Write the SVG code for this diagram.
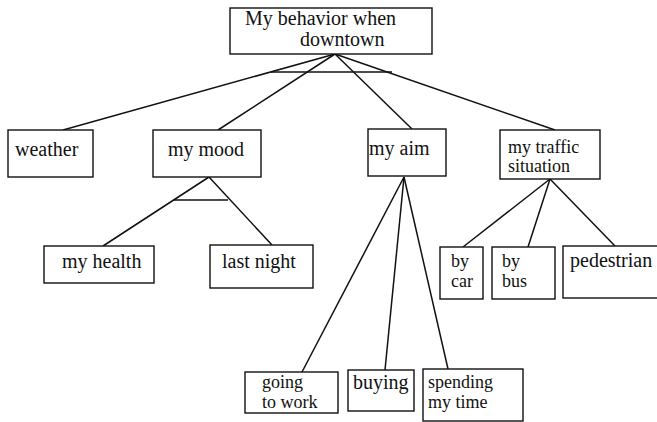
<svg xmlns="http://www.w3.org/2000/svg" width="657" height="422" viewBox="0 0 657 422">
<style>
rect{fill:#fff;stroke:#111;stroke-width:1.4}
text{font-family:"Liberation Serif","Times New Roman",serif;font-size:20px;fill:#111}
text.s{font-size:18px}
.c line{stroke:#111;stroke-width:1.5}
</style>
<rect x="0" y="0" width="657" height="422" style="stroke:none"/>
<g class="c" id="connectors">
<line x1="335" y1="54" x2="63" y2="130"/>
<line x1="335" y1="54" x2="218" y2="130"/>
<line x1="335" y1="54" x2="412" y2="129"/>
<line x1="335" y1="54" x2="555" y2="130"/>
<line x1="271" y1="72" x2="392" y2="72"/>
<line x1="209" y1="177" x2="103" y2="246"/>
<line x1="209" y1="177" x2="272" y2="245"/>
<line x1="174" y1="200" x2="228" y2="200"/>
<line x1="404" y1="177" x2="302" y2="372"/>
<line x1="404" y1="177" x2="385" y2="370"/>
<line x1="404" y1="177" x2="448" y2="369"/>
<line x1="550" y1="179" x2="463" y2="247"/>
<line x1="550" y1="179" x2="528" y2="247"/>
<line x1="550" y1="179" x2="615" y2="246"/>
</g>
<g id="root"><rect x="230" y="8" width="202" height="46"/><text x="245" y="25">My behavior when</text><text x="300" y="46">downtown</text></g>
<g id="weather"><rect x="8" y="130" width="85" height="47"/><text x="15" y="156">weather</text></g>
<g id="mood"><rect x="153" y="130" width="108" height="47"/><text x="168" y="156">my mood</text></g>
<g id="aim"><rect x="368" y="129" width="78" height="47"/><text x="369" y="155">my aim</text></g>
<g id="traffic"><rect x="500" y="130" width="100" height="49"/><text class="s" x="508" y="153">my traffic</text><text class="s" x="508" y="172">situation</text></g>
<g id="health"><rect x="44" y="246" width="110" height="37"/><text x="62" y="268">my health</text></g>
<g id="lastnight"><rect x="210" y="245" width="103" height="43"/><text x="222" y="268">last night</text></g>
<g id="bycar"><rect x="440" y="247" width="43" height="52"/><text class="s" x="451" y="267">by</text><text class="s" x="451" y="287">car</text></g>
<g id="bybus"><rect x="492" y="247" width="63" height="52"/><text class="s" x="502" y="267">by</text><text class="s" x="502" y="287">bus</text></g>
<g id="pedestrian"><rect x="563" y="246" width="100" height="52"/><text x="570" y="267">pedestrian</text></g>
<g id="going"><rect x="245" y="372" width="93" height="41"/><text class="s" x="262" y="388">going</text><text class="s" x="262" y="408">to work</text></g>
<g id="buying"><rect x="348" y="370" width="66" height="41"/><text x="353" y="389">buying</text></g>
<g id="spending"><rect x="423" y="369" width="100" height="52"/><text class="s" x="428" y="388">spending</text><text class="s" x="428" y="408">my time</text></g>
</svg>
